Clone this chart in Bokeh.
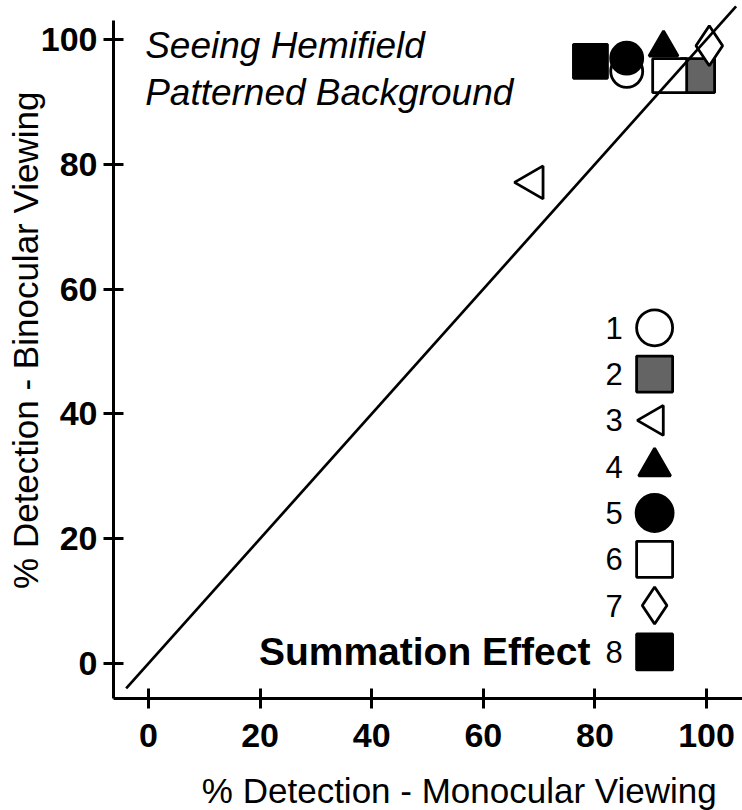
import math
from bokeh.plotting import figure
from bokeh.models import Range1d, FixedTicker, Label
from bokeh.embed import file_html
from bokeh.resources import INLINE

# ---- data ----
subjects = ["1", "2", "3", "4", "5", "6", "7", "8"]
monocular = [85.7, 98.4, 69.0, 92.3, 85.7, 93.4, 100.5, 79.2]   # % detection, monocular
binocular = [94.9, 94.2, 77.1, 98.7, 97.0, 94.2, 99.0, 96.5]    # % detection, binocular
x_ticks = [0, 20, 40, 60, 80, 100]
y_ticks = [0, 20, 40, 60, 80, 100]
unity_line = [-4, 105.3]

# ---- styles per subject ----
FONT = "Liberation Sans"
styles = {
    "1": dict(marker="circle", fill_color="white", size=32, angle=0.0),
    "2": dict(marker="square", fill_color="#646464", size=34, angle=0.0),
    "3": dict(marker="triangle", fill_color="white", size=33, angle=math.pi / 2),
    "4": dict(marker="triangle", fill_color="black", size=29, angle=0.0),
    "5": dict(marker="circle", fill_color="black", size=32, angle=0.0),
    "6": dict(marker="square", fill_color="white", size=34, angle=0.0),
    "7": dict(marker="diamond", fill_color="white", size=40, angle=0.0),
    "8": dict(marker="square", fill_color="black", size=34, angle=0.0),
}
legend_sizes = {"1": 36, "2": 36, "3": 30, "4": 32, "5": 37, "6": 36, "7": 37, "8": 36}
draw_order = ["2", "6", "4", "7", "8", "1", "5", "3"]

# axis extents (where the axis lines start / end) and the visible window
X_AXIS_START, X_AXIS_END = -6.27, 106.45
Y_AXIS_START, Y_AXIS_END = -5.6, 103.0

p = figure(width=742, height=810,
           x_range=Range1d(-26.52, 106.45), y_range=Range1d(-23.56, 106.25),
           output_backend="svg", toolbar_location=None,
           min_border_left=0, min_border_right=0,
           min_border_top=0, min_border_bottom=0)
p.outline_line_color = None
p.xgrid.visible = False
p.ygrid.visible = False
p.background_fill_color = "white"
p.border_fill_color = "white"

for ax, ticks in ((p.xaxis, x_ticks), (p.yaxis, y_ticks)):
    ax.ticker = FixedTicker(ticks=ticks)
    ax.axis_line_width = 3
    ax.axis_line_color = "black"
    ax.major_tick_line_width = 3
    ax.major_tick_line_color = "black"
    ax.major_tick_in = 10
    ax.major_tick_out = 10
    ax.minor_tick_line_color = None
    ax.major_label_text_font = FONT
    ax.major_label_text_font_size = "34px"
    ax.major_label_text_font_style = "bold"
    ax.major_label_text_color = "black"
p.xaxis.fixed_location = Y_AXIS_START
p.xaxis.bounds = (X_AXIS_START, X_AXIS_END)
p.yaxis.fixed_location = X_AXIS_START
p.yaxis.bounds = (Y_AXIS_START, Y_AXIS_END)
p.xaxis.major_label_standoff = 16
p.yaxis.major_label_standoff = 6

# axis titles
p.add_layout(Label(x=55.7, y=-20.4, text="% Detection - Monocular Viewing",
                   text_align="center", text_baseline="middle", text_font=FONT,
                   text_font_size="35px", text_color="black"))
p.add_layout(Label(x=-22.1, y=51.8, text="% Detection - Binocular Viewing", angle=math.pi / 2,
                   text_align="center", text_baseline="middle", text_font=FONT,
                   text_font_size="35px", text_color="black"))

# data points
for s in draw_order:
    i = subjects.index(s)
    st = styles[s]
    p.scatter(x=[monocular[i]], y=[binocular[i]], marker=st["marker"], size=st["size"],
              angle=st["angle"], fill_color=st["fill_color"], line_color="black",
              line_width=2.8)

# unity line
p.line(x=unity_line, y=unity_line, line_color="black", line_width=2.7)

# manual legend (number to the left of the marker)
leg_x = 90.7
num_x = 85.0
leg_y0 = 53.8
leg_step = 7.42
for k, s in enumerate(subjects):
    st = styles[s]
    yy = leg_y0 - k * leg_step
    p.scatter(x=[leg_x], y=[yy], marker=st["marker"], size=legend_sizes[s],
              angle=st["angle"], fill_color=st["fill_color"], line_color="black",
              line_width=2.8)
    p.add_layout(Label(x=num_x, y=yy, text=s, text_align="right", text_baseline="middle",
                       text_font=FONT, text_font_size="31px", text_color="black"))

p.add_layout(Label(x=79.2, y=leg_y0 - 7 * leg_step, text="Summation Effect",
                   text_align="right", text_baseline="middle", text_font=FONT,
                   text_font_size="39px", text_font_style="bold", text_color="black"))

p.add_layout(Label(x=-0.6, y=99.0, text="Seeing Hemifield", text_align="left",
                   text_baseline="middle", text_font=FONT, text_font_size="37px",
                   text_font_style="italic", text_color="black"))
p.add_layout(Label(x=-0.6, y=91.5, text="Patterned Background", text_align="left",
                   text_baseline="middle", text_font=FONT, text_font_size="37px",
                   text_font_style="italic", text_color="black"))

open("out.html", "w").write(file_html(p, INLINE))
